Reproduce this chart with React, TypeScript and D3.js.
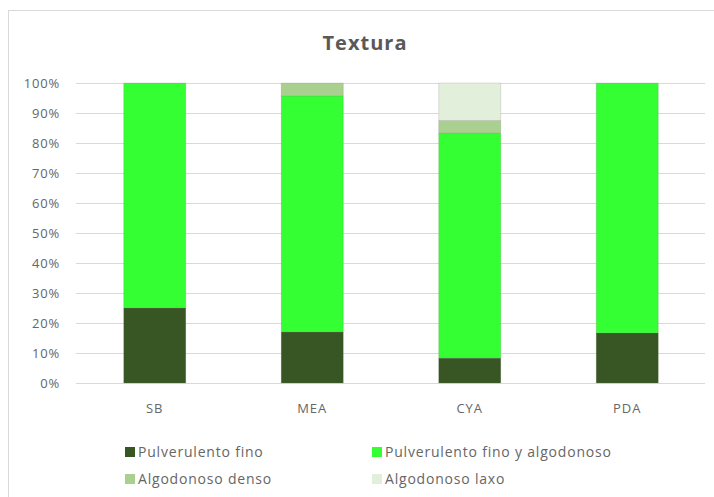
import React, { useRef, useEffect } from "react";
import * as d3 from "d3";

const categories = ["SB", "MEA", "CYA", "PDA"];
const seriesNames = [
  "Pulverulento fino",
  "Pulverulento fino y algodonoso",
  "Algodonoso denso",
  "Algodonoso laxo",
];
const pulverulentoFino = [0.25, 0.17, 0.083, 0.167];
const pulverulentoAlgodonoso = [0.75, 0.787, 0.75, 0.833];
const algodonosoDenso = [0, 0.043, 0.042, 0];
const algodonosoLaxo = [0, 0, 0.125, 0];
const yTicks = [0, 0.1, 0.2, 0.3, 0.4, 0.5, 0.6, 0.7, 0.8, 0.9, 1];
const colors = ["#375623", "#33FF33", "#A9D08E", "#E2EFDA"];

const W = 714;
const H = 497;
const FONT = "'Open Sans', 'DejaVu Sans', sans-serif";

export default function App() {
  const svgRef = useRef<SVGSVGElement>(null);

  useEffect(() => {
    if (!svgRef.current) return;
    const svg = d3.select(svgRef.current);
    svg.selectAll("*").remove();

    // chart frame
    svg.append("rect")
      .attr("x", 8.5)
      .attr("y", 10.5)
      .attr("width", 720)
      .attr("height", 500)
      .attr("fill", "#fff")
      .attr("stroke", "#d9d9d9");

    // title
    svg.append("text")
      .attr("x", 365)
      .attr("y", 50)
      .attr("text-anchor", "middle")
      .style("font-family", FONT)
      .style("font-size", "20px")
      .style("font-weight", "bold")
      .style("letter-spacing", "1px")
      .style("fill", "#595959")
      .text("Textura");

    const x = d3.scaleBand<string>()
      .domain(categories)
      .range([76, 706])
      .paddingInner(0.606)
      .paddingOuter(0.303);

    const y = d3.scaleLinear().domain([0, 1]).range([383, 83]);

    // gridlines
    svg.append("g")
      .selectAll("line")
      .data(yTicks)
      .enter()
      .append("line")
      .attr("x1", 76)
      .attr("x2", 705)
      .attr("y1", d => Math.round(y(d)) + 0.5)
      .attr("y2", d => Math.round(y(d)) + 0.5)
      .attr("stroke", "#d9d9d9")
      .attr("stroke-width", 1);

    // y tick labels
    svg.append("g")
      .selectAll("text")
      .data(yTicks)
      .enter()
      .append("text")
      .attr("x", 60)
      .attr("y", d => y(d))
      .attr("dy", "0.35em")
      .attr("text-anchor", "end")
      .style("font-family", FONT)
      .style("font-size", "13px")
      .style("letter-spacing", "0.8px")
      .style("fill", "#666")
      .text(d => d3.format(".0%")(d));

    // stacked bars
    const table = categories.map((c, i) => ({
      cat: c,
      s0: pulverulentoFino[i],
      s1: pulverulentoAlgodonoso[i],
      s2: algodonosoDenso[i],
      s3: algodonosoLaxo[i],
    }));
    const stack = d3.stack<any>().keys(["s0", "s1", "s2", "s3"]);
    const layers = stack(table);

    svg.append("g")
      .selectAll("g")
      .data(layers)
      .enter()
      .append("g")
      .attr("fill", (_d, i) => colors[i])
      .selectAll("rect")
      .data(d => d.filter(p => p[1] - p[0] > 0))
      .enter()
      .append("rect")
      .attr("x", d => x(d.data.cat) || 0)
      .attr("width", x.bandwidth())
      .attr("y", d => y(Math.min(d[1], 1)))
      .attr("height", d => y(d[0]) - y(Math.min(d[1], 1)))
      .attr("stroke", "rgba(120,120,120,0.25)")
      .attr("stroke-width", 0.8);

    // category labels
    svg.append("g")
      .selectAll("text")
      .data(categories)
      .enter()
      .append("text")
      .attr("x", d => (x(d) || 0) + x.bandwidth() / 2)
      .attr("y", 408)
      .attr("dy", "0.35em")
      .attr("text-anchor", "middle")
      .style("font-family", FONT)
      .style("font-size", "13px")
      .style("letter-spacing", "1px")
      .style("fill", "#666")
      .text(d => d);

    // legend
    const legendPos = [
      [125, 452],
      [372, 452],
      [125, 479],
      [372, 479],
    ];
    const lg = svg.append("g")
      .selectAll("g")
      .data(seriesNames)
      .enter()
      .append("g")
      .attr("transform", (_d, i) => `translate(${legendPos[i][0]},${legendPos[i][1]})`);
    lg.append("rect")
      .attr("x", 0)
      .attr("y", -5)
      .attr("width", 10)
      .attr("height", 10)
      .attr("fill", (_d, i) => colors[i]);
    lg.append("text")
      .attr("x", 13)
      .attr("y", 0)
      .attr("dy", "0.35em")
      .style("font-family", FONT)
      .style("font-size", "14px")
      .style("letter-spacing", "0.8px")
      .style("fill", "#666")
      .text(d => d);
  }, []);

  return (
    <svg
      ref={svgRef}
      width={W}
      height={H}
      style={{ position: "absolute", left: 0, top: 0, background: "#fff" }}
    />
  );
}
